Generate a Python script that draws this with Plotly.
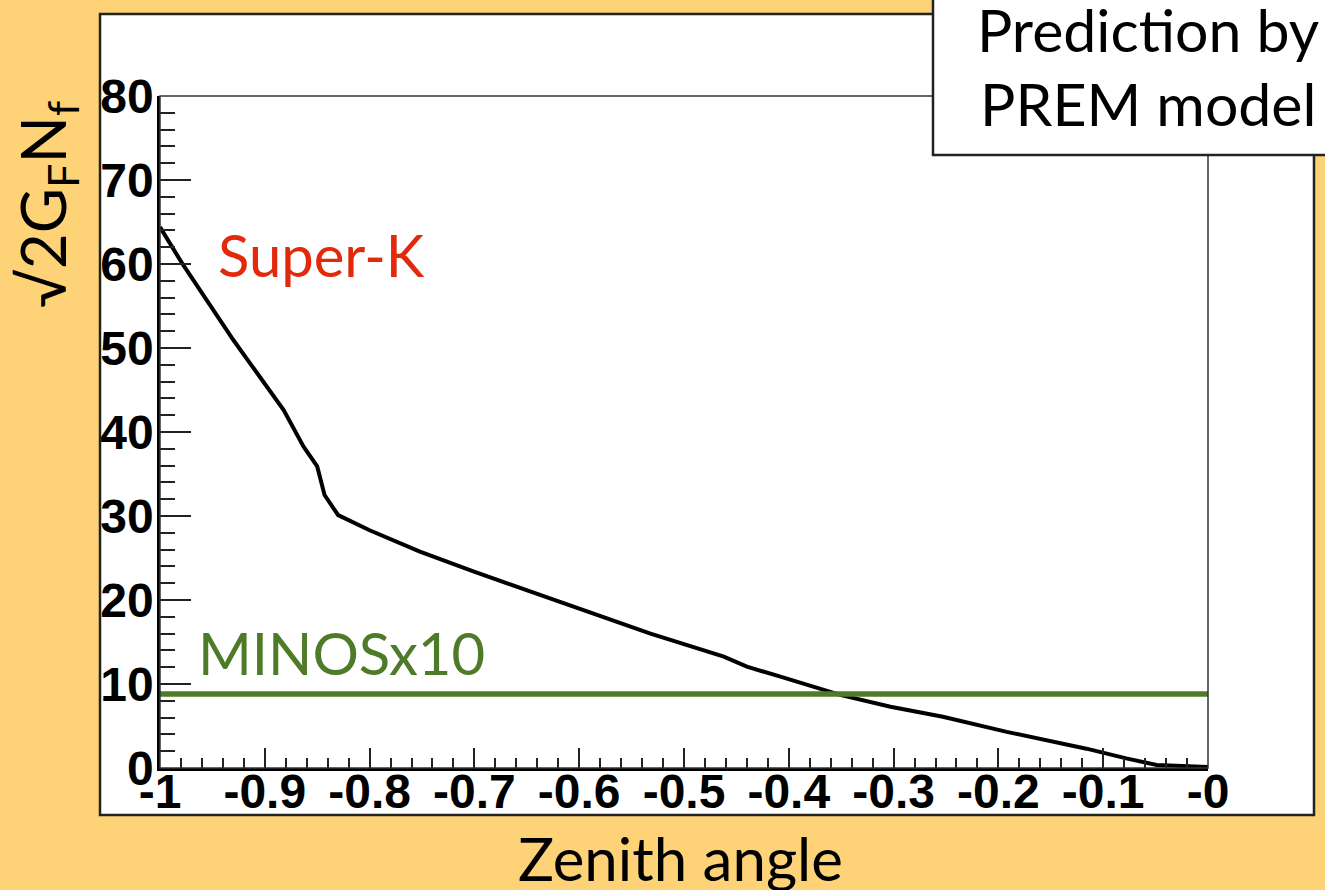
import plotly.graph_objects as go

# ---- data ----
zenith = [-1.0, -0.979, -0.93, -0.882, -0.863, -0.85, -0.843, -0.83, -0.80, -0.752,
          -0.701, -0.669, -0.625, -0.583, -0.532, -0.462, -0.44, -0.408, -0.351,
          -0.303, -0.253, -0.192, -0.116, -0.078, -0.049, 0.0]
potential = [64.4, 60.1, 50.95, 42.6, 38.25, 35.9, 32.5, 30.1, 28.3, 25.75,
             23.4, 22.0, 20.0, 18.2, 16.0, 13.25, 12.06, 10.87, 8.7,
             7.3, 6.1, 4.3, 2.3, 1.15, 0.36, 0.12]
minos_x = [-1.0, 0.0]
minos_y = [8.8, 8.8]

x_tickvals = [-1, -0.9, -0.8, -0.7, -0.6, -0.5, -0.4, -0.3, -0.2, -0.1, 0]
x_ticktext = ["-1", "-0.9", "-0.8", "-0.7", "-0.6", "-0.5", "-0.4", "-0.3", "-0.2", "-0.1", "-0"]
y_tickvals = [0, 10, 20, 30, 40, 50, 60, 70, 80]
y_ticktext = ["0", "10", "20", "30", "40", "50", "60", "70", "80"]

# ---- layout geometry (pixels) ----
W, H = 1325, 890
L, R, T, B = 160, 1208, 96, 768

def px(x):
    return (x - L) / (R - L)

def py(y):
    return (B - y) / (B - T)

ORANGE = "#FED378"
RED = "#E2290B"
GREEN = "#4E7B28"
GILL = "Lato, 'Open Sans', sans-serif"
BOLD = "'Liberation Sans', Arial, Helvetica, sans-serif"

fig = go.Figure()
fig.add_trace(go.Scatter(x=zenith, y=potential, mode="lines",
                         line=dict(color="black", width=4), showlegend=False,
                         cliponaxis=True))
fig.add_trace(go.Scatter(x=minos_x, y=minos_y, mode="lines",
                         line=dict(color=GREEN, width=5.5), showlegend=False))

fig.update_layout(
    width=W, height=H,
    margin=dict(l=L, r=W - R, t=T, b=H - B, pad=0),
    paper_bgcolor=ORANGE, plot_bgcolor="white",
    showlegend=False,
    font=dict(family=BOLD, color="black"),
)

fig.update_xaxes(
    range=[-1, 0], showgrid=False, zeroline=False,
    showline=True, linecolor="black", linewidth=2.5,
    ticks="inside", ticklen=20, tickwidth=1.5, tickcolor="#222",
    tickmode="array", tickvals=x_tickvals, ticktext=x_ticktext,
    tickfont=dict(family=BOLD, size=48, color="black", weight="bold"),
    ticklabelstandoff=-20,
    minor=dict(ticks="inside", ticklen=10, tickwidth=1.5, tickcolor="#222",
               tickmode="linear", tick0=-1, dtick=0.02, showgrid=False),
)
fig.update_yaxes(
    range=[0, 80], showgrid=False, zeroline=False,
    showline=True, linecolor="black", linewidth=2.5,
    ticks="inside", ticklen=31, tickwidth=1.5, tickcolor="#222",
    tickmode="array", tickvals=y_tickvals, ticktext=y_ticktext,
    tickfont=dict(family=BOLD, size=48, color="black", weight="bold"),
    ticklabelstandoff=-6,
    minor=dict(ticks="inside", ticklen=15, tickwidth=1.5, tickcolor="#222",
               tickmode="linear", tick0=0, dtick=2, showgrid=False),
)

shapes = [
    # white frame
    dict(type="rect", xref="paper", yref="paper",
         x0=px(100), x1=px(1314), y0=py(815), y1=py(14),
         fillcolor="white", line=dict(color="#222", width=2.5), layer="below"),
    # thin top/right frame of plot area
    dict(type="rect", xref="paper", yref="paper",
         x0=0, x1=1, y0=0, y1=1,
         line=dict(color="#333", width=1.5), layer="above"),
    # title box
    dict(type="rect", xref="paper", yref="paper",
         x0=px(933), x1=px(1335), y0=py(155), y1=py(-10),
         fillcolor="white", line=dict(color="#222", width=2.5), layer="above"),
]
fig.update_layout(shapes=shapes)

ann = [
    dict(text="Prediction by", x=px(1148), y=py(29), font=dict(family=GILL, size=59, color="black")),
    dict(text="PREM model", x=px(1148), y=py(104), font=dict(family=GILL, size=59, color="black")),
    dict(text="Zenith angle", x=px(680), y=py(858), font=dict(family=GILL, size=60, color="black")),
    dict(text="√2G<sub>F</sub>N<sub>f</sub>", x=px(46), y=py(205), textangle=-90,
         font=dict(family=GILL, size=62, color="black")),
    dict(text="Super-K", x=px(321), y=py(254), font=dict(family=GILL, size=58, color=RED)),
    dict(text="MINOSx10", x=px(341), y=py(652), font=dict(family=GILL, size=58, color=GREEN)),
]
for a in ann:
    a.update(xref="paper", yref="paper", showarrow=False,
             xanchor="center", yanchor="middle")
fig.update_layout(annotations=ann)

fig.write_html("out.html")
